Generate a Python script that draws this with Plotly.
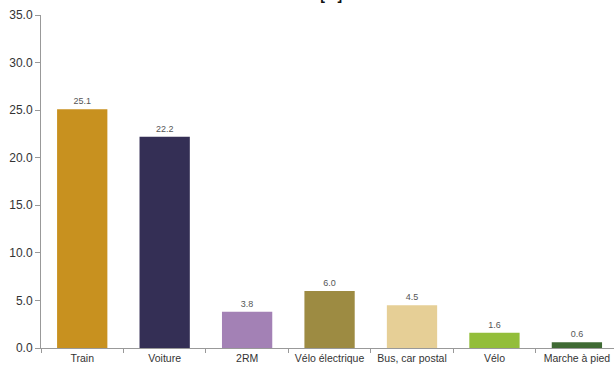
import plotly.graph_objects as go

categories = ["Train", "Voiture", "2RM", "Vélo électrique", "Bus, car postal", "Vélo", "Marche à pied"]
values = [25.1, 22.2, 3.8, 6.0, 4.5, 1.6, 0.6]
colors = ["#C8911F", "#342F55", "#A381B5", "#9D8B42", "#E6CF96", "#93BE3A", "#3F6A34"]
y_ticks = [0, 5, 10, 15, 20, 25, 30, 35]
title_text = "Total [%]"

fig = go.Figure(go.Bar(
    x=categories, y=values,
    marker=dict(color=colors, line=dict(width=0)),
    text=[f"{v:.1f}" for v in values],
    textposition="outside",
    textfont=dict(size=9, color="#555555", family="Liberation Sans"),
    cliponaxis=False,
))

fig.update_layout(
    width=614, height=367,
    margin=dict(l=41, r=0, t=15, b=19, autoexpand=False),
    paper_bgcolor="white", plot_bgcolor="white",
    bargap=0.39,
    showlegend=False,
    font=dict(family="Liberation Sans", color="#333333"),
    annotations=[dict(text=f"<b>{title_text}</b>", x=(313 - 41) / 573, xref="paper", y=1, yref="paper",
                      xanchor="center", yanchor="bottom", yshift=10, showarrow=False,
                      font=dict(size=14, color="#111111"))],
)

fig.update_xaxes(
    automargin=False,
    range=[-0.5, 6.45],
    showline=True, linecolor="#999999", linewidth=1,
    ticks="outside", tickson="boundaries", ticklen=4, tickcolor="#999999",
    tickfont=dict(size=10.5, color="#333333"),
    showgrid=False,
)
fig.update_yaxes(
    automargin=False,
    range=[0, 35], tickvals=y_ticks, ticktext=[f"{v:.1f}" for v in y_ticks],
    showline=True, linecolor="#999999", linewidth=1,
    ticks="outside", ticklen=5, tickcolor="#999999",
    tickfont=dict(size=12, color="#333333"),
    showgrid=False, zeroline=False,
)

fig.write_html(
    "out.html",
    config={"displayModeBar": False},
    post_script="document.body.style.margin='0';document.body.style.overflow='hidden';",
)
